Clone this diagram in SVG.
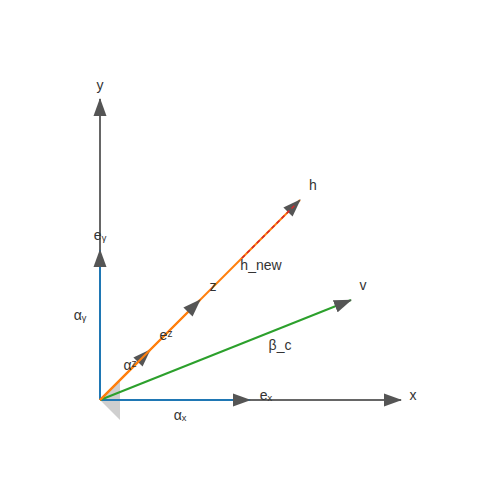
<svg xmlns="http://www.w3.org/2000/svg" width="500" height="500" viewBox="0 0 500 500">
<defs>
<marker id="arr" viewBox="0 0 18 14" refX="17" refY="7" markerWidth="18" markerHeight="14" markerUnits="userSpaceOnUse" orient="auto">
<path d="M0,0.5 L18,7 L0,13.5 z" fill="#555"/>
</marker>
<style>
.ax{stroke:#666;stroke-width:2;fill:none}
.bl{stroke:#1f77b4;stroke-width:2;fill:none}
.or{stroke:#ff7f0e;stroke-width:2;fill:none}
.gr{stroke:#2ca02c;stroke-width:2;fill:none}
.rd{stroke:#d62728;stroke-width:1.5;stroke-dasharray:4 3;fill:none}
text{font-family:"Liberation Sans",Arial,sans-serif;font-size:14px;fill:#333;text-anchor:middle}
</style>
</defs>
<rect width="500" height="500" fill="#fff"/>
<polygon points="100,400 120,380 120,420" fill="#bbb" opacity="0.7"/>
<g id="connectors">
<line class="ax" x1="100" y1="400" x2="401" y2="400" marker-end="url(#arr)"/>
<line class="ax" x1="100" y1="400" x2="100" y2="99" marker-end="url(#arr)"/>
<line class="bl" x1="100" y1="400" x2="250" y2="400" marker-end="url(#arr)"/>
<line class="bl" x1="100" y1="400" x2="100" y2="250" marker-end="url(#arr)"/>
<line class="gr" x1="100" y1="400" x2="351" y2="300" marker-end="url(#arr)"/>
<line class="or" x1="100" y1="400" x2="300" y2="200" marker-end="url(#arr)"/>
<line class="rd" x1="242" y1="258" x2="296" y2="204"/>
<line class="or" x1="100" y1="400" x2="150" y2="350" marker-end="url(#arr)"/>
<line class="or" x1="100" y1="400" x2="200" y2="300" marker-end="url(#arr)"/>
</g>
<g id="labels">
<text x="413" y="400">x</text>
<text x="100" y="90">y</text>
<text x="313" y="190">h</text>
<text x="363" y="290">v</text>
<text x="261" y="270">h_new</text>
<text x="213" y="291">z</text>
<text x="280" y="350">β_c</text>
<text x="166" y="340">eᶻ</text>
<text x="130" y="370">αᶻ</text>
<text x="80" y="320">αᵧ</text>
<text x="100" y="240">eᵧ</text>
<text x="266" y="400">eₓ</text>
<text x="180" y="420">αₓ</text>
</g>
</svg>
